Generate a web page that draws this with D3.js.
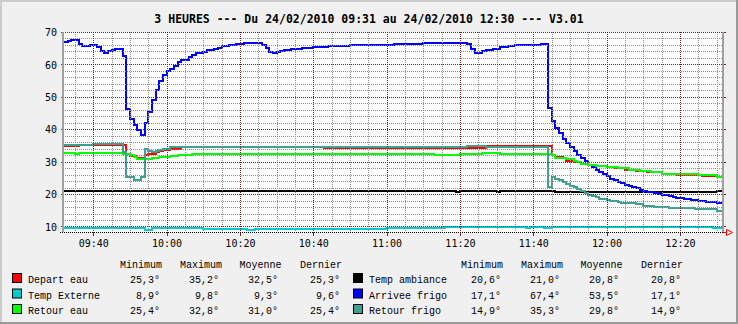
<!DOCTYPE html>
<html>
<head>
<meta charset="utf-8">
<script src="https://cdn.jsdelivr.net/npm/d3@7"></script>
<style>
  html, body { margin: 0; padding: 0; background: #f0f0f0; }
  svg { display: block; }
</style>
</head>
<body>
<svg id="chart" width="738" height="324"></svg>
<script>
// ---- Series: [time "HH:MM", value °C], each value holds until the next time ----
const departEau = [
  ["09:31",34.8],["09:36",35.0],["09:40",35.2],["09:43",35.0],["09:49",32.3],["09:50",31.8],
  ["09:51",31.6],["09:52",31.2],["09:54",32.2],["09:55",32.5],["09:57",33.0],["09:58",33.4],
  ["09:59",33.7],["10:01",34.0],["10:04",34.4],["10:43",34.3],["11:27",34.8],["11:45",32.2],
  ["11:46",31.5],["11:48",31.0],["11:49",30.3],["11:51",30.0],["11:52",29.8],["11:53",29.4],
  ["11:55",29.0],["11:56",28.6],["12:00",28.2],["12:02",27.9],["12:05",27.5],["12:08",27.1],
  ["12:11",26.7],["12:15",26.3],["12:19",26.0],["12:21",25.8],["12:26",25.6],["12:30",25.3]
];
const tempAmbiance = [
  ["09:31",20.8],["10:15",21.0],["10:16",20.8],["10:32",21.0],["10:33",20.8],["10:45",21.0],
  ["10:47",20.9],["10:49",20.8],["10:57",20.9],["11:19",20.7],["11:20",20.9],["11:23",20.8],
  ["11:30",20.6],["11:31",20.9],["11:34",20.8],["11:45",21.0],["11:46",20.7],["12:30",20.8]
];
const tempExterne = [
  ["09:31",9.4],["09:54",9.0],["09:56",9.4],["10:10",9.1],["10:22",8.9],["10:24",9.3],
  ["10:25",9.2],["11:00",9.5],["11:13",9.4],["11:16",9.7],["11:38",9.5],["11:39",9.7],
  ["11:43",9.5],["11:45",9.8],["12:29",9.6]
];
const arriveeFrigo = [
  ["09:31",66.9],["09:33",67.2],["09:34",67.4],["09:36",66.3],["09:37",65.7],["09:39",66.0],
  ["09:41",65.4],["09:42",64.1],["09:43",63.5],["09:44",64.1],["09:45",64.4],["09:46",64.9],
  ["09:48",62.6],["09:49",46.2],["09:50",43.2],["09:51",41.2],["09:52",39.8],["09:53",38.3],
  ["09:54",42.0],["09:55",45.2],["09:56",48.9],["09:57",52.2],["09:58",55.0],["09:59",56.6],
  ["10:00",57.9],["10:01",58.6],["10:02",59.4],["10:03",60.6],["10:04",61.5],["10:06",62.2],
  ["10:07",62.9],["10:08",63.5],["10:10",63.9],["10:11",64.3],["10:13",64.8],["10:14",65.2],
  ["10:15",65.6],["10:17",65.9],["10:19",66.2],["10:21",66.5],["10:26",66.1],["10:27",65.0],
  ["10:28",63.8],["10:29",63.5],["10:30",63.8],["10:31",64.0],["10:32",64.3],["10:34",64.7],
  ["10:37",65.0],["10:40",65.3],["10:44",65.6],["10:50",66.0],["11:02",66.3],["11:10",66.6],
  ["11:22",66.2],["11:23",64.8],["11:24",63.5],["11:26",64.0],["11:27",64.3],["11:29",64.9],
  ["11:31",65.3],["11:33",65.6],["11:35",66.0],["11:42",66.2],["11:44",46.5],["11:45",42.4],
  ["11:46",40.4],["11:47",38.7],["11:48",37.0],["11:49",35.7],["11:50",34.6],["11:51",33.4],
  ["11:52",32.1],["11:53",31.0],["11:54",30.3],["11:55",29.0],["11:56",28.5],["11:57",27.5],
  ["11:58",26.8],["11:59",26.3],["12:00",25.6],["12:01",24.8],["12:02",24.3],["12:03",23.8],
  ["12:04",23.4],["12:05",22.9],["12:06",22.6],["12:07",22.1],["12:08",21.8],["12:09",21.2],
  ["12:10",20.9],["12:11",20.6],["12:13",20.2],["12:14",19.9],["12:15",19.6],["12:17",19.3],
  ["12:18",19.0],["12:19",18.7],["12:21",18.4],["12:23",18.1],["12:25",17.8],["12:27",17.5],
  ["12:30",17.1]
];
const retourEau = [
  ["09:31",32.8],["09:35",32.5],["09:36",32.8],["09:48",32.5],["09:50",32.1],["09:51",31.5],
  ["09:52",30.9],["09:54",30.7],["09:56",31.1],["09:58",31.5],["10:01",31.9],["10:03",32.1],
  ["10:07",32.3],["11:13",32.1],["11:20",32.3],["11:26",32.6],["11:31",32.3],["11:45",32.0],
  ["11:46",31.2],["11:49",30.7],["11:51",30.2],["11:52",29.8],["11:53",29.4],["11:55",29.0],
  ["11:57",28.6],["12:00",28.2],["12:03",27.9],["12:06",27.5],["12:09",27.1],["12:12",26.7],
  ["12:15",26.3],["12:20",26.1],["12:25",25.8],["12:30",25.4]
];
const retourFrigo = [
  ["09:31",35.0],["09:40",35.3],["09:48",33.0],["09:49",25.2],["09:51",24.2],["09:53",25.2],
  ["09:54",33.8],["09:55",33.2],["09:56",32.9],["09:57",33.2],["09:58",33.6],["09:59",34.0],
  ["10:01",34.4],["10:27",34.6],["10:29",34.4],["11:22",34.7],["11:27",34.6],["11:44",22.1],
  ["11:45",25.2],["11:46",24.7],["11:47",24.4],["11:48",23.7],["11:49",23.2],["11:50",22.6],
  ["11:51",22.1],["11:52",21.6],["11:53",20.9],["11:54",20.3],["11:55",19.8],["11:56",19.3],
  ["11:57",19.0],["11:58",18.6],["12:00",18.3],["12:01",17.8],["12:03",17.5],["12:04",17.2],
  ["12:08",16.8],["12:10",16.4],["12:13",16.0],["12:17",15.6],["12:24",15.4],["12:30",14.9]
];

// ---- Legend ----
const seriesNames  = ["Depart eau", "Temp ambiance", "Temp Externe", "Arrivee frigo", "Retour eau", "Retour frigo"];
const seriesColors = ["#ff0000", "#000000", "#00cccc", "#0000ff", "#00ff00", "#40a090"];
const seriesData   = [departEau, tempAmbiance, tempExterne, arriveeFrigo, retourEau, retourFrigo];
const statHeaders  = ["Minimum", "Maximum", "Moyenne", "Dernier"];
const statValues = [
  ["25,3°", "35,2°", "32,5°", "25,3°"],
  ["20,6°", "21,0°", "20,8°", "20,8°"],
  ["8,9°",  "9,8°",  "9,3°",  "9,6°"],
  ["17,1°", "67,4°", "53,5°", "17,1°"],
  ["25,4°", "32,8°", "31,0°", "25,4°"],
  ["14,9°", "35,3°", "29,8°", "14,9°"]
];
const yTicks = [10, 20, 30, 40, 50, 60, 70];
const titleText = "3 HEURES --- Du 24/02/2010 09:31 au 24/02/2010 12:30 --- V3.01";

// ---- Scales ----
const at = (h, m, s = 0) => new Date(2010, 1, 24, h, m, s);
const parseT = str => { const [h, m] = str.split(":").map(Number); return at(h, m); };
const tStart = at(9, 31, 45), tEnd = at(12, 31, 45);

const plot = { left: 63, right: 723, top: 32, bottom: 232 };
const x = d3.scaleTime().domain([tStart, tEnd]).range([plot.left, plot.right]);
const y = d3.scaleLinear().domain([8.3, 70]).range([plot.bottom, plot.top]);

const svg = d3.select("#chart");
const W = 738, H = 324;

// frame and background
svg.append("rect").attr("width", W).attr("height", H).attr("fill", "#f0f0f0");
svg.append("rect").attr("x", 0).attr("y", 0).attr("width", W).attr("height", 2).attr("fill", "#cbcbcb");
svg.append("rect").attr("x", 0).attr("y", 0).attr("width", 2).attr("height", H).attr("fill", "#cbcbcb");
svg.append("rect").attr("x", W - 2).attr("y", 0).attr("width", 2).attr("height", H).attr("fill", "#999999");
svg.append("rect").attr("x", 0).attr("y", H - 2).attr("width", W).attr("height", 2).attr("fill", "#999999");

// canvas
svg.append("rect")
  .attr("x", plot.left).attr("y", plot.top)
  .attr("width", plot.right - plot.left).attr("height", plot.bottom - plot.top)
  .attr("fill", "#ffffff");

// title
svg.append("text")
  .attr("x", 369).attr("y", 23)
  .attr("text-anchor", "middle")
  .attr("font-family", "DejaVu Sans Mono")
  .attr("font-weight", "bold")
  .attr("font-size", "11.5px")
  .attr("fill", "#000")
  .text(titleText);

// lines
svg.append("clipPath").attr("id", "clip")
  .append("rect").attr("x", plot.left).attr("y", plot.top)
  .attr("width", plot.right - plot.left).attr("height", plot.bottom - plot.top);

const line = d3.line()
  .x(d => x(d[0])).y(d => y(d[1]))
  .curve(d3.curveStepAfter);

const gLines = svg.append("g").attr("clip-path", "url(#clip)");
seriesData.forEach((s, i) => {
  const pts = s.map(([t, v]) => [parseT(t), v]);
  pts.push([tEnd, pts[pts.length - 1][1]]);
  gLines.append("path")
    .datum(pts)
    .attr("d", line)
    .attr("fill", "none")
    .attr("stroke", seriesColors[i])
    .attr("stroke-width", 2)
    .attr("shape-rendering", "crispEdges");
});

// grid, drawn over the lines
const gGrid = svg.append("g").attr("shape-rendering", "crispEdges");
const minorTimes = d3.timeMinute.every(5).range(tStart, tEnd);
const majorTimes = d3.timeMinute.every(20).range(tStart, tEnd);
const minorVals = d3.range(10, 70.01, 2);

gGrid.selectAll(".vmin").data(minorTimes).join("line")
  .attr("x1", d => Math.round(x(d)) + 0.5).attr("x2", d => Math.round(x(d)) + 0.5)
  .attr("y1", plot.top).attr("y2", plot.bottom)
  .attr("stroke", "#8f8f8f").attr("stroke-dasharray", "1,1");
gGrid.selectAll(".hmin").data(minorVals).join("line")
  .attr("x1", plot.left).attr("x2", plot.right + 1)
  .attr("y1", d => Math.round(y(d)) + 0.5).attr("y2", d => Math.round(y(d)) + 0.5)
  .attr("stroke", "#8f8f8f").attr("stroke-dasharray", "1,1");
gGrid.selectAll(".vmaj").data(majorTimes).join("line")
  .attr("x1", d => Math.round(x(d)) + 0.5).attr("x2", d => Math.round(x(d)) + 0.5)
  .attr("y1", plot.top).attr("y2", plot.bottom)
  .attr("stroke", "#821e1e").attr("stroke-dasharray", "1,1");
gGrid.selectAll(".hmaj").data(yTicks).join("line")
  .attr("x1", plot.left).attr("x2", plot.right + 2)
  .attr("y1", d => Math.round(y(d)) + 0.5).attr("y2", d => Math.round(y(d)) + 0.5)
  .attr("stroke", "#821e1e").attr("stroke-dasharray", "1,1");

// ticks (solid short marks outside the canvas)
gGrid.selectAll(".ytk").data(yTicks).join("line")
  .attr("x1", plot.left - 2).attr("x2", plot.left)
  .attr("y1", d => Math.round(y(d)) + 0.5).attr("y2", d => Math.round(y(d)) + 0.5)
  .attr("stroke", "#821e1e");
gGrid.selectAll(".ytkr").data(yTicks).join("line")
  .attr("x1", plot.right).attr("x2", plot.right + 3)
  .attr("y1", d => Math.round(y(d)) + 0.5).attr("y2", d => Math.round(y(d)) + 0.5)
  .attr("stroke", "#821e1e");
gGrid.selectAll(".xtk").data(majorTimes).join("line")
  .attr("x1", d => Math.round(x(d)) + 0.5).attr("x2", d => Math.round(x(d)) + 0.5)
  .attr("y1", plot.bottom).attr("y2", plot.bottom + 4)
  .attr("stroke", "#821e1e");

// axes
gGrid.append("line")
  .attr("x1", plot.left).attr("x2", plot.left)
  .attr("y1", plot.top).attr("y2", plot.bottom)
  .attr("stroke", "#a0a0a0").attr("stroke-width", 2);
gGrid.append("line")
  .attr("x1", plot.right).attr("x2", plot.right)
  .attr("y1", plot.top).attr("y2", plot.bottom)
  .attr("stroke", "#a0a0a0").attr("stroke-width", 2);
gGrid.append("line")
  .attr("x1", plot.left - 3).attr("x2", plot.right)
  .attr("y1", plot.bottom + 0.5).attr("y2", plot.bottom + 0.5)
  .attr("stroke", "#000").attr("stroke-dasharray", "1,1");

// arrow at the end of the time axis
svg.append("line")
  .attr("x1", plot.right).attr("x2", plot.right + 3.5)
  .attr("y1", plot.bottom + 0.5).attr("y2", plot.bottom + 0.5)
  .attr("stroke", "#ff0000");
svg.append("path")
  .attr("d", `M${plot.right + 3.5},${plot.bottom - 2.5} L${plot.right + 9.5},${plot.bottom + 0.5} L${plot.right + 3.5},${plot.bottom + 3.5} Z`)
  .attr("fill", "none").attr("stroke", "#ff0000");

// axis labels
const yAxis = d3.axisLeft(y).tickValues(yTicks).tickSize(0).tickPadding(6).tickFormat(d3.format("d"));
const gy = svg.append("g").attr("transform", `translate(${plot.left},0.5)`).call(yAxis);
gy.select(".domain").remove();
gy.selectAll("text")
  .attr("font-family", "DejaVu Sans Mono").attr("font-size", "10px").attr("fill", "#000");

const xAxis = d3.axisBottom(x).tickValues(majorTimes).tickSize(0).tickPadding(8)
  .tickFormat(d3.timeFormat("%H:%M"));
const gx = svg.append("g").attr("transform", `translate(0,${plot.bottom})`).call(xAxis);
gx.select(".domain").remove();
gx.selectAll("text")
  .attr("font-family", "DejaVu Sans Mono").attr("font-size", "10px").attr("fill", "#000");

// legend: two blocks of three rows
const legendFont = "Liberation Mono";
const headerStarts = [120, 180, 239.5, 300];
const valueEnds = [160, 219, 278, 340];
const rowBase = [283, 298.5, 314];
const blockShift = [0, 341];

blockShift.forEach(dx => {
  statHeaders.forEach((h, j) => {
    svg.append("text")
      .attr("x", headerStarts[j] + dx).attr("y", 268)
      .attr("font-family", legendFont).attr("font-size", "10px").attr("fill", "#000")
      .text(h);
  });
});

seriesNames.forEach((name, i) => {
  const dx = blockShift[i % 2];
  const by = rowBase[Math.floor(i / 2)];
  svg.append("rect")
    .attr("x", 12.5 + dx).attr("y", by - 9.5)
    .attr("width", 9).attr("height", 9)
    .attr("fill", seriesColors[i]).attr("stroke", "#000").attr("stroke-width", 1);
  svg.append("text")
    .attr("x", 28 + dx).attr("y", by)
    .attr("font-family", legendFont).attr("font-size", "10px").attr("fill", "#000")
    .text(name);
  statValues[i].forEach((v, j) => {
    svg.append("text")
      .attr("x", valueEnds[j] + dx).attr("y", by)
      .attr("text-anchor", "end")
      .attr("font-family", legendFont).attr("font-size", "10px").attr("fill", "#000")
      .text(v);
  });
});
</script>
</body>
</html>
